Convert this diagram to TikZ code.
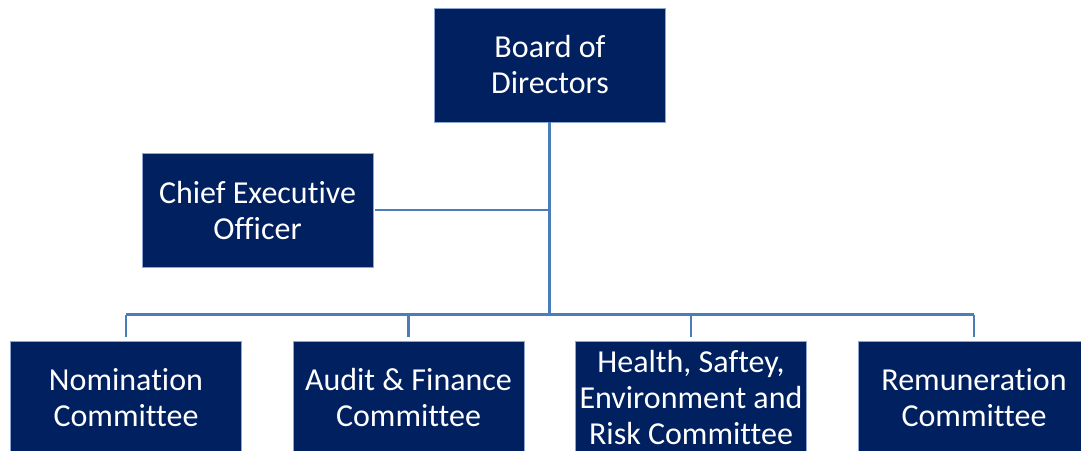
\documentclass[tikz,border=0pt]{standalone}
\usepackage{fontspec}
\setmainfont{Carlito}[Ligatures={NoCommon}]
\definecolor{boxnavy}{RGB}{0,32,96}
\definecolor{boxedge}{RGB}{140,165,210}
\definecolor{linkblue}{RGB}{74,126,187}
\begin{document}
\begin{tikzpicture}[x=1pt,y=-1pt,
  orgbox/.style={rectangle, fill=boxnavy, draw=boxedge, line width=0.8pt,
    minimum width=231pt, minimum height=114pt, inner sep=0pt,
    text=white, align=center, font=\fontsize{32}{36}\selectfont},
  trunk/.style={draw=linkblue, line width=3pt},
  link/.style={draw=linkblue, line width=2.3pt}]
\useasboundingbox (0,0) rectangle (1081,450);
\clip (0,0) rectangle (1081,450);
\node[orgbox] (board) at (550,65) {Board of\\Directors};
\node[orgbox] (ceo) at (257.5,210) {Chief Executive\\Officer};
\node[orgbox] (nom) at (126,398) {Nomination\\Committee};
\node[orgbox] (audit) at (408.5,398) {Audit \& Finance\\Committee};
\node[orgbox] (hse) at (691,398) {Health, Saftey,\\Environment and\\Risk Committee};
\node[orgbox] (rem) at (974,398) {Remuneration\\Committee};
\coordinate (bus) at (549.5,314.5);
\coordinate (ceoj) at (549.5,210);
\path[trunk] (board.south -| bus) -- (bus);
\path[link] ([xshift=2pt]ceo.east) -- (ceoj);
\path[link] (nom.north |- bus) -- (rem.north |- bus);
\path[link] (nom.north |- bus) -- ([yshift=4pt]nom.north);
\path[link] (audit.north |- bus) -- ([yshift=4pt]audit.north);
\path[link] (hse.north |- bus) -- ([yshift=4pt]hse.north);
\path[link] (rem.north |- bus) -- ([yshift=4pt]rem.north);
\end{tikzpicture}
\end{document}
